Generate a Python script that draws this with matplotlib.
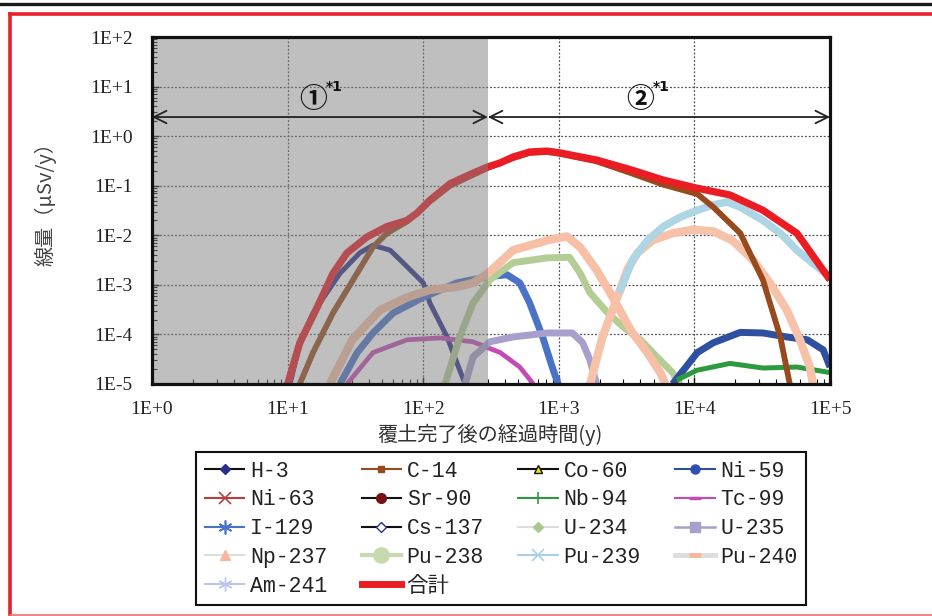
import matplotlib
matplotlib.use('Agg')
import matplotlib.pyplot as plt
from matplotlib.lines import Line2D
from matplotlib.ticker import FixedLocator, LogLocator, NullFormatter

# ---------------- data (years, dose uSv/y) ----------------
h3_t = [10.4, 12.3, 15.4, 24.3, 34, 42.6, 57, 71, 100, 112, 150, 186, 204]
h3_d = [1.0e-5, 6.2e-5, 2.7e-4, 1.7e-3, 4.4e-3, 6.3e-3, 5.0e-3, 2.8e-3, 1.1e-3, 4.3e-4, 8.9e-5, 1.9e-5, 1.0e-5]

c14_t = [12.3, 15.4, 21.6, 30.4, 42.6, 54, 76, 112, 158, 300, 460, 610, 820, 1020, 1900, 3400, 5900, 7800,
         10500, 13800, 21800, 32000, 43000, 50500]
c14_d = [1.0e-5, 4.3e-5, 2.7e-4, 1.26e-3, 5.8e-3, 1.1e-2, 1.9e-2, 4.8e-2, 0.10, 0.23, 0.36, 0.46, 0.48,
         0.44, 0.31, 0.18, 0.105, 0.085, 0.068, 0.037, 0.011, 1.26e-3, 8.9e-5, 1.0e-5]

ni59_t = [6900, 10500, 13800, 21800, 32000, 48000, 68000, 89000, 100000]
ni59_d = [1.0e-5, 4.3e-5, 6.8e-5, 1.1e-4, 1.07e-4, 8.9e-5, 7.8e-5, 4.9e-5, 2.2e-5]

nb94_t = [7400, 10500, 18300, 32000, 57000, 100000]
nb94_d = [1.2e-5, 1.9e-5, 2.6e-5, 2.1e-5, 2.2e-5, 1.7e-5]

tc99_t = [27.4, 42.6, 76, 133, 233, 370, 515, 650]
tc99_d = [1.0e-5, 4.3e-5, 7.8e-5, 8.5e-5, 7.1e-5, 4.3e-5, 2.2e-5, 1.0e-5]

i129_t = [24.3, 32.6, 42.6, 60, 100, 178, 295, 415, 515, 610, 760, 910, 990]
i129_d = [1.0e-5, 4.3e-5, 1.07e-4, 2.7e-4, 5.6e-4, 1.1e-3, 1.45e-3, 1.6e-3, 1.1e-3, 4.3e-4, 8.9e-5, 1.9e-5, 1.0e-5]

u234_t = [145, 186, 233, 310, 460, 820, 1200, 1440, 1700, 2300, 3000, 4000, 5300, 6900, 7800]
u234_d = [1.0e-5, 8.9e-5, 4.3e-4, 1.26e-3, 2.8e-3, 3.5e-3, 3.6e-3, 1.7e-3, 6.9e-4, 2.7e-4, 1.4e-4,
          7.8e-5, 3.5e-5, 1.7e-5, 1.0e-5]

u235_t = [204, 233, 310, 460, 820, 1260, 1500, 1700, 1900]
u235_d = [1.0e-5, 3.5e-5, 7.1e-5, 8.9e-5, 1.07e-4, 1.07e-4, 6.8e-5, 3.0e-5, 1.0e-5]

np237_t = [20.5, 30, 48, 76, 112, 178, 233, 300, 460, 820, 1150, 1440, 1900, 2500, 3400, 4500, 5600, 6100]
np237_d = [1.0e-5, 7.8e-5, 3.1e-4, 5.6e-4, 7.9e-4, 9.1e-4, 1.1e-3, 1.7e-3, 5.0e-3, 7.9e-3, 9.5e-3,
           5.7e-3, 2.0e-3, 5.6e-4, 1.2e-4, 4.3e-5, 1.7e-5, 1.0e-5]

pu239_t = [2800, 3500, 4500, 5900, 7800, 10500, 13800, 17500, 21800, 32000, 43000, 57000, 75000, 100000]
pu239_d = [7.0e-4, 3.2e-3, 7.9e-3, 1.5e-2, 2.3e-2, 3.2e-2, 4.1e-2, 4.7e-2, 3.7e-2, 2.0e-2, 1.1e-2,
           5.0e-3, 2.7e-3, 1.45e-3]

pu240_t = [1700, 2100, 2700, 3200, 3800, 4900, 6900, 9800, 13800, 19000, 27000, 36000, 48000, 60000,
           71000, 75000]
pu240_d = [1.0e-5, 8.9e-5, 5.6e-4, 2.0e-3, 4.4e-3, 7.9e-3, 1.1e-2, 1.3e-2, 1.2e-2, 7.9e-3, 3.2e-3,
           1.1e-3, 3.1e-4, 7.8e-5, 2.2e-5, 1.0e-5]

total_t = [10, 12.3, 16.5, 21.6, 27.4, 38.6, 54, 76, 90, 112, 158, 233, 300, 370, 460, 610, 820, 1020,
           1900, 3400, 5900, 10500, 18300, 32000, 57000, 100000]
total_d = [1.0e-5, 6.8e-5, 3.5e-4, 1.7e-3, 4.4e-3, 9.3e-3, 1.5e-2, 2.0e-2, 2.8e-2, 5.1e-2, 0.11, 0.18,
           0.24, 0.29, 0.38, 0.48, 0.50, 0.46, 0.33, 0.21, 0.13, 0.089, 0.065, 0.032, 0.011, 1.26e-3]

x_ticks = [1, 10, 100, 1000, 10000, 100000]
x_tick_labels = ['1E+0', '1E+1', '1E+2', '1E+3', '1E+4', '1E+5']
y_ticks = [1e-5, 1e-4, 1e-3, 1e-2, 1e-1, 1, 10, 100]
y_tick_labels = ['1E-5', '1E-4', '1E-3', '1E-2', '1E-1', '1E+0', '1E+1', '1E+2']

period_edges = [1, 300, 100000]
period_labels = ['①', '②']

legend_names = ['H-3', 'C-14', 'Co-60', 'Ni-59', 'Ni-63', 'Sr-90', 'Nb-94', 'Tc-99', 'I-129', 'Cs-137',
                'U-234', 'U-235', 'Np-237', 'Pu-238', 'Pu-239', 'Pu-240', 'Am-241', '合計']

# ---------------- figure ----------------
plt.rcParams['font.family'] = ['Liberation Serif', 'Noto Sans CJK JP', 'DejaVu Sans']
fig = plt.figure(figsize=(9.32, 6.16), dpi=100)
ax = fig.add_axes([152 / 932, 1 - 384 / 616, 678 / 932, 347 / 616])
ax.set_xscale('log')
ax.set_yscale('log')
ax.set_xlim(1, 1e5)
ax.set_ylim(1e-5, 1e2)

curve_style = dict(solid_joinstyle='round', solid_capstyle='butt')
ax.plot(h3_t, h3_d, color='#2B2F8C', lw=3.6, zorder=2.0, **curve_style)
ax.plot(tc99_t, tc99_d, color='#C44BB4', lw=3.4, zorder=2.0, **curve_style)
ax.plot(i129_t, i129_d, color='#4A72C6', lw=5.0, zorder=2.0, **curve_style)
ax.plot(u234_t, u234_d, color='#B3CD95', lw=5.0, zorder=2.0, **curve_style)
ax.plot(u235_t, u235_d, color='#A89FCC', lw=5.0, zorder=2.0, **curve_style)
ax.plot(np237_t, np237_d, color='#F6BFA6', lw=6.0, zorder=2.1, **curve_style)
ax.plot(pu240_t, pu240_d, color='#F6C2AA', lw=6.0, zorder=2.1, **curve_style)
ax.plot(pu239_t, pu239_d, color='#AED5E4', lw=5.5, zorder=2.2, **curve_style)
ax.plot(ni59_t, ni59_d, color='#2F4FA0', lw=5.0, zorder=2.0, **curve_style)
ax.plot(nb94_t, nb94_d, color='#2E9A40', lw=3.6, zorder=2.05, **curve_style)
ax.plot(c14_t, c14_d, color='#984A1E', lw=4.2, zorder=2.3, **curve_style)
ax.plot(total_t, total_d, color='#EC1C24', lw=5.2, zorder=2.4, **curve_style)

# grey shading for period 1 (drawn over curves)
ax.axvspan(period_edges[0], period_edges[1], color='#808080', alpha=0.5, lw=0, zorder=2.6)

# grid & axes
ax.grid(True, which='major', color='#505050', linestyle=(0, (1.5, 1.5)), linewidth=0.9, zorder=1)
ax.set_axisbelow(True)
ax.xaxis.set_major_locator(FixedLocator(x_ticks))
ax.set_xticklabels(x_tick_labels)
ax.yaxis.set_major_locator(FixedLocator(y_ticks))
ax.set_yticklabels(y_tick_labels)
ax.xaxis.set_minor_locator(LogLocator(base=10, subs=range(2, 10), numticks=20))
ax.yaxis.set_minor_locator(LogLocator(base=10, subs=range(2, 10), numticks=20))
ax.xaxis.set_minor_formatter(NullFormatter())
ax.yaxis.set_minor_formatter(NullFormatter())
ax.tick_params(which='both', direction='in', color='#111111')
ax.tick_params(which='major', length=5, width=1.0, labelsize=14, labelcolor='#222222')
ax.tick_params(which='minor', length=3.5, width=0.8)
ax.tick_params(axis='x', which='major', pad=12)
ax.tick_params(axis='y', which='major', pad=14)
for s in ax.spines.values():
    s.set_linewidth(2.3)
    s.set_color('#111111')
    s.set_zorder(5)

# period arrows
arrow_y = 2.43
for i in range(2):
    ax.annotate('', xy=(period_edges[i], arrow_y), xytext=(period_edges[i + 1], arrow_y),
                arrowprops=dict(arrowstyle='<->,head_length=0.9,head_width=0.45', color='#222222',
                                lw=1.3, shrinkA=0, shrinkB=0), zorder=4)
label_x = [15.4, 3980]
for lx, lab in zip(label_x, period_labels):
    ax.text(lx, 5.4, lab, fontsize=20, ha='center', va='center', color='#111111', fontweight='bold',
            family=['Noto Sans CJK JP', 'DejaVu Sans'], zorder=4)
    ax.annotate('*1', xy=(lx, 5.4), xytext=(9, 4), textcoords='offset points', fontsize=10,
                fontweight='bold', ha='left', va='bottom', color='#111111',
                family=['DejaVu Sans'], zorder=4)

# axis labels
fig.text(45 / 932, 1 - 199 / 616, '線量（μSv/y）', rotation=90, ha='center', va='center',
         fontsize=14.5, color='#444444', family=['Noto Sans CJK JP', 'DejaVu Sans'])
fig.text(490 / 932, 1 - 435 / 616, '覆土完了後の経過時間(y)', ha='center', va='center',
         fontsize=14.5, color='#333333', family=['Noto Sans CJK JP', 'DejaVu Sans'])

# legend (proxy handles reproducing the original legend symbols)
legend_styles = {
    'H-3': dict(color='#111111', lw=1.5, marker='D', ms=5, mfc='#2B2F8C', mec='#2B2F8C'),
    'C-14': dict(color='#984A1E', lw=1.5, marker='s', ms=4.5, mfc='#984A1E', mec='#984A1E'),
    'Co-60': dict(color='#111111', lw=1.5, marker='^', ms=6, mfc='#F2E600', mec='#111111'),
    'Ni-59': dict(color='#2F4FA0', lw=1.5, marker='o', ms=6.5, mfc='#3050B0', mec='#3050B0'),
    'Ni-63': dict(color='#B8403C', lw=1.5, marker='x', ms=8, mec='#B8403C', mew=1.2),
    'Sr-90': dict(color='#111111', lw=1.5, marker='o', ms=7, mfc='#7A1010', mec='#7A1010'),
    'Nb-94': dict(color='#2E9A40', lw=1.5, marker='+', ms=9, mec='#2E9A40', mew=1.2),
    'Tc-99': dict(color='#C44BB4', lw=1.5, marker='_', ms=9, mec='#C44BB4', mew=2.5),
    'I-129': dict(color='#4A72C6', lw=1.5, marker=(6, 2, 0), ms=10, mec='#4A72C6', mew=1.2),
    'Cs-137': dict(color='#111111', lw=1.5, marker='D', ms=5.5, mfc='white', mec='#2B2F8C'),
    'U-234': dict(color='#DDDDDD', lw=1.5, marker='D', ms=5.5, mfc='#A8C890', mec='#A8C890'),
    'U-235': dict(color='#A89FCC', lw=1.8, marker='s', ms=7, mfc='#A89FCC', mec='#A89FCC'),
    'Np-237': dict(color='#DDDDDD', lw=1.5, marker='^', ms=7, mfc='#F6B89A', mec='#F6B89A'),
    'Pu-238': dict(color='#C8D9B0', lw=3.0, marker='o', ms=11, mfc='#C8D9B0', mec='#C8D9B0'),
    'Pu-239': dict(color='#A8D0E8', lw=1.5, marker='x', ms=9, mec='#A8D0E8', mew=1.2),
    'Pu-240': dict(color='#DDDDDD', lw=3.5, marker='_', ms=9, mec='#F6B89A', mew=3.5),
    'Am-241': dict(color='#BCC4EC', lw=1.5, marker=(6, 2, 0), ms=10, mec='#BCC4EC', mew=1.0),
    '合計': dict(color='#EC1C24', lw=5.0),
}
handles = {n: Line2D([], [], **legend_styles[n]) for n in legend_names}
ncol = 4
# matplotlib fills legends column-wise; order entries so they read row-wise
order = [legend_names[r * ncol + c] for c in range(ncol) for r in range(5) if r * ncol + c < len(legend_names)]
leg = fig.legend([handles[n] for n in order], order, loc='upper left',
                 bbox_to_anchor=(196 / 932, 1 - 452 / 616), ncol=ncol, frameon=True, fancybox=False,
                 edgecolor='#111111', framealpha=1, borderpad=0.4, labelspacing=0.36,
                 handlelength=1.85, handletextpad=0.25, columnspacing=1.6, borderaxespad=0,
                 prop={'family': ['Liberation Mono', 'Noto Sans CJK JP'], 'size': 15.5})
leg.get_frame().set_linewidth(1.5)
for t in leg.get_texts():
    t.set_color('#222222')

# outer frame decorations
fig.add_artist(Line2D([0, 1], [1 - 4 / 616, 1 - 4 / 616], transform=fig.transFigure,
                      color='#1A1A1A', lw=2.4))
fig.add_artist(Line2D([9.5 / 932, 1], [1 - 13.5 / 616, 1 - 13.5 / 616], transform=fig.transFigure,
                      color='#E8202A', lw=2.6))
fig.add_artist(Line2D([9.5 / 932, 9.5 / 932], [1 - 13.5 / 616, 0], transform=fig.transFigure,
                      color='#E8202A', lw=2.6))
fig.add_artist(Line2D([9.5 / 932, 1], [1 - 614.5 / 616, 1 - 614.5 / 616], transform=fig.transFigure,
                      color='#F07070', lw=1.2))

fig.savefig('out.png', dpi=100)
